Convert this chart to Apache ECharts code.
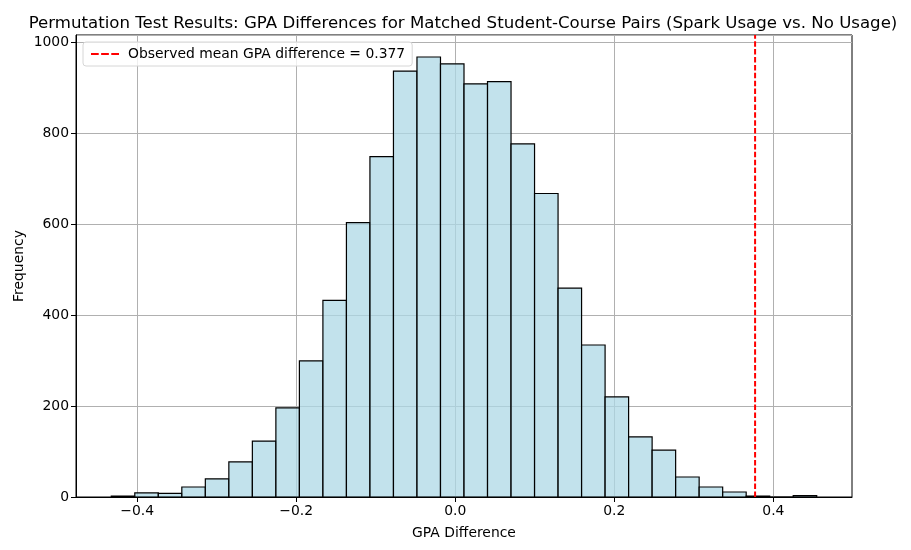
<!DOCTYPE html>
<html>
<head>
<meta charset="utf-8">
<script src="https://cdn.jsdelivr.net/npm/echarts@6/dist/echarts.min.js"></script>
<style>
html, body { margin: 0; padding: 0; background: #fff; }
#main { width: 911px; height: 550px; }
</style>
</head>
<body>
<div id="main"></div>
<script>
// histogram of permuted mean differences, 30 bins between data min and max
var binMin = -0.4325;
var binMax = 0.4545;
var counts = [2, 9, 8, 22, 40, 77, 123, 196, 299, 432,
              603, 748, 936, 967, 952, 908, 913, 776, 667, 459,
              334, 220, 132, 103, 44, 22, 11, 2, 0, 3];
var observed = 0.377;
var xTicks = [-0.4, -0.2, 0.0, 0.2, 0.4];

var nBins = counts.length;
var binW = (binMax - binMin) / nBins;
var bins = counts.map(function (c, i) {
    return [binMin + i * binW, binMin + (i + 1) * binW, c];
});

var pad = (binMax - binMin) * 0.05;
var yMax = Math.max.apply(null, counts) * 1.05;

var font = 'DejaVu Sans';
var red = '#ff0000';

var myChart = echarts.init(document.getElementById('main'));
var option = {
    animation: false,
    backgroundColor: '#fff',
    title: {
        text: 'Permutation Test Results: GPA Differences for Matched Student-Course Pairs (Spark Usage vs. No Usage)',
        left: 458,
        textAlign: 'center',
        top: 10,
        textStyle: { fontFamily: font, fontSize: 16.6, fontWeight: 'normal', color: '#000' }
    },
    legend: {
        left: 83,
        top: 42,
        orient: 'vertical',
        padding: [5, 7, 5, 8],
        itemWidth: 28,
        itemHeight: 2,
        itemGap: 8,
        icon: 'path://M0,0H8V2H0Z M10.5,0H18.5V2H10.5Z M21,0H29V2H21Z',
        borderColor: '#d6d6d6',
        borderWidth: 1,
        borderRadius: 3,
        backgroundColor: 'rgba(255,255,255,0.8)',
        textStyle: { fontFamily: font, fontSize: 13.9, color: '#000', padding: [0, 0, 0, 4] },
        data: ['Observed mean GPA difference = 0.377']
    },
    grid: { left: 76, right: 59, top: 35, bottom: 53, show: true, borderColor: '#000', borderWidth: 1 },
    xAxis: {
        type: 'value',
        min: binMin - pad,
        max: binMax + pad,
        name: 'GPA Difference',
        nameLocation: 'middle',
        nameGap: 29,
        nameTextStyle: { fontFamily: font, fontSize: 13.9, color: '#000' },
        axisLine: { show: true, onZero: false, lineStyle: { color: '#000' } },
        axisTick: { show: true, inside: false, length: 5, lineStyle: { color: '#000' }, customValues: xTicks },
        axisLabel: {
            fontFamily: font, fontSize: 13.9, color: '#000', margin: 7,
            customValues: xTicks,
            formatter: function (v) { return v.toFixed(1).replace('-', '\u2212'); }
        },
        splitLine: { show: true, lineStyle: { color: '#b0b0b0', width: 1 } }
    },
    yAxis: {
        type: 'value',
        min: 0,
        max: yMax,
        interval: 200,
        name: 'Frequency',
        nameLocation: 'middle',
        nameGap: 50,
        nameMoveOverlap: false,
        nameTextStyle: { fontFamily: font, fontSize: 13.9, color: '#000' },
        axisLine: { show: true, onZero: false, lineStyle: { color: '#000' } },
        axisTick: { show: true, length: 5, lineStyle: { color: '#000' } },
        axisLabel: {
            fontFamily: font, fontSize: 13.9, color: '#000', margin: 7,
            showMaxLabel: false,
            formatter: function (v) { return String(v); }
        },
        splitLine: { show: true, lineStyle: { color: '#b0b0b0', width: 1 } }
    },
    series: [
        {
            type: 'custom',
            name: 'hist',
            data: bins,
            encode: { x: [0, 1], y: 2 },
            renderItem: function (params, api) {
                var a = api.coord([api.value(0), api.value(2)]);
                var b = api.coord([api.value(1), 0]);
                return {
                    type: 'rect',
                    shape: { x: a[0], y: a[1], width: b[0] - a[0], height: b[1] - a[1] },
                    style: { fill: 'rgba(173,216,230,0.75)', stroke: '#000', lineWidth: 1.2 }
                };
            },
            z: 2
        },
        {
            type: 'line',
            name: 'Observed mean GPA difference = 0.377',
            data: [[observed, 0], [observed, yMax]],
            symbol: 'none',
            silent: true,
            itemStyle: { color: red },
            lineStyle: { color: red, width: 2, type: [5.5, 2.4] },
            z: 3
        }
    ]
};
myChart.setOption(option);
</script>
</body>
</html>
